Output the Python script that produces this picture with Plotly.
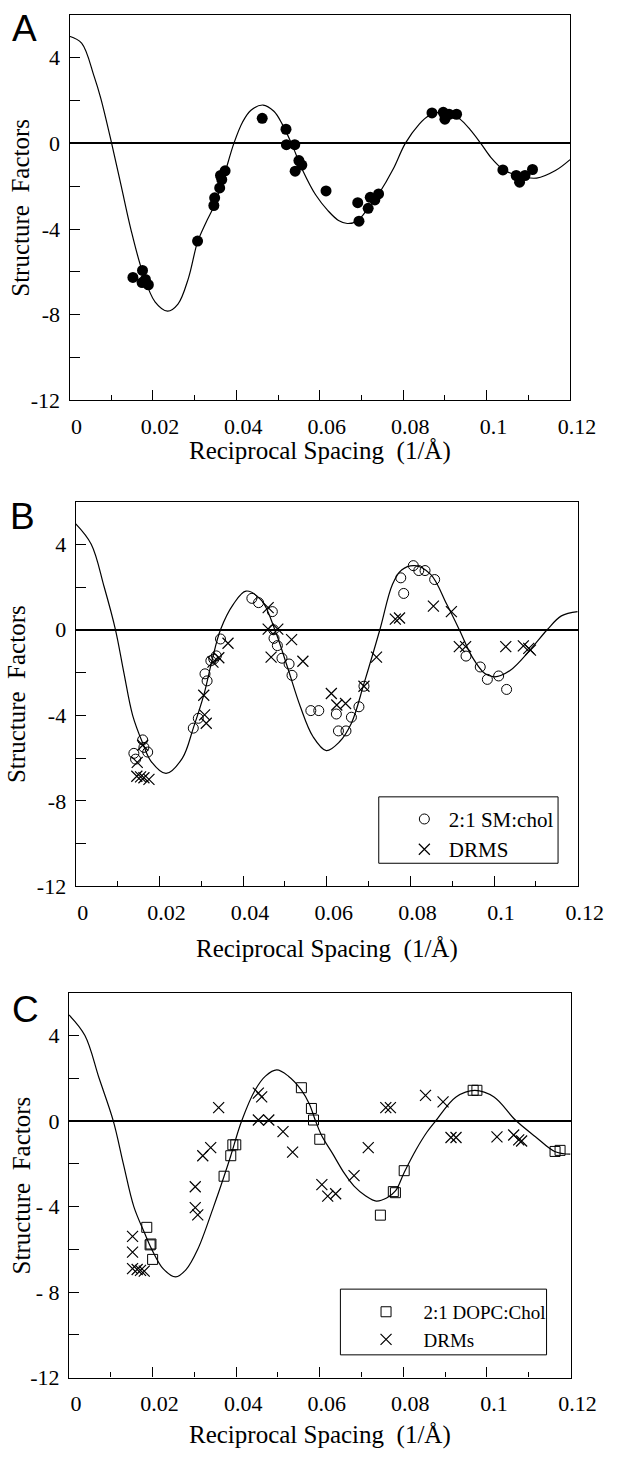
import plotly.graph_objects as go

W, H = 632, 1462

# ---------------- data ----------------
x_ticks = [0, 0.02, 0.04, 0.06, 0.08, 0.1, 0.12]
x_ticklabels = ["0", "0.02", "0.04", "0.06", "0.08", "0.1", "0.12"]
x_minor = [0.01, 0.03, 0.05, 0.07, 0.09, 0.11]
y_ticks = [-12, -8, -4, 0, 4]
y_ticklabels_ab = ["-12", "-8", "-4", "0", "4"]
y_ticklabels_c = ["-12", "- 8", "- 4", "0", "4"]
y_minor = [-10, -6, -2, 2]

# Panel A
curve_a_x = [0.0, 0.0029, 0.0059, 0.0075, 0.0101, 0.0124, 0.0147, 0.0175, 0.0205, 0.0235,
             0.0260, 0.0285, 0.0307, 0.0327, 0.0347, 0.0370, 0.0394, 0.0415, 0.0435, 0.0464,
             0.0490, 0.0510, 0.0532, 0.0560, 0.0590, 0.0620, 0.0645, 0.0666, 0.0690, 0.0717,
             0.0742, 0.0776, 0.0805, 0.0838, 0.0862, 0.0887, 0.0912, 0.0937, 0.0960, 0.0986,
             0.1010, 0.1040, 0.1074, 0.1120, 0.1165, 0.1200]
curve_a_y = [5.0, 4.68, 3.13, 2.1, 0.0, -2.0, -4.0, -6.0, -7.4, -7.83,
             -7.5, -6.3, -4.6, -3.7, -2.9, -1.55, 0.0, 1.0, 1.55, 1.79,
             1.5, 0.9, 0.0, -1.3, -2.4, -3.15, -3.6, -3.74, -3.62, -3.0,
             -2.34, -1.2, 0.0, 0.89, 1.3, 1.46, 1.4, 1.12, 0.65, 0.0,
             -0.65, -1.22, -1.5, -1.62, -1.27, -0.76]
dots_a_x = [0.0152, 0.0175, 0.0174, 0.0182, 0.0189, 0.0307,
            0.0346, 0.0348, 0.0360, 0.0365, 0.0362, 0.0373, 0.0462,
            0.0519, 0.0520, 0.0540, 0.0550, 0.0557, 0.0541, 0.0615,
            0.0691, 0.0694, 0.0716, 0.0721, 0.0732, 0.0741,
            0.0869, 0.0896, 0.0900, 0.0910, 0.0928,
            0.1039, 0.1071, 0.1079, 0.1092, 0.1110]
dots_a_y = [-6.26, -5.93, -6.5, -6.35, -6.6, -4.56,
            -2.9, -2.54, -2.08, -1.69, -1.5, -1.28, 1.17,
            0.66, -0.06, -0.06, -0.8, -1.01, -1.3, -2.22,
            -2.77, -3.63, -3.03, -2.52, -2.64, -2.36,
            1.42, 1.45, 1.13, 1.36, 1.36,
            -1.24, -1.5, -1.81, -1.5, -1.22]

# Panel B
curve_b_x = [0.0, 0.0037, 0.0068, 0.0095, 0.0115, 0.0136, 0.0160, 0.0180, 0.0216, 0.0255,
             0.0281, 0.0306, 0.0325, 0.0346, 0.0377, 0.0407, 0.0445, 0.0476, 0.0506, 0.0537,
             0.0567, 0.0599, 0.0630, 0.0659, 0.0689, 0.0727, 0.0757, 0.0779, 0.0811, 0.0849,
             0.0887, 0.0917, 0.0948, 0.0978, 0.1001, 0.1039, 0.1085, 0.1127, 0.1161, 0.1200]
curve_b_y = [4.95, 4.0, 2.0, 0.0, -2.0, -4.0, -5.3, -6.15, -6.72, -6.0,
             -4.6, -3.06, -1.5, 0.0, 1.2, 1.81, 1.35, 0.0, -1.74, -3.6,
             -4.99, -5.65, -5.25, -4.37, -2.52, 0.0, 2.12, 2.8, 3.0, 2.58,
             1.19, 0.0, -1.28, -2.05, -2.2, -1.89, -0.97, 0.0, 0.65, 0.85]
sm_chol_x = [0.0139, 0.0143, 0.0160, 0.0163, 0.0172, 0.0281, 0.0293,
             0.0309, 0.0314, 0.0323, 0.0330, 0.0336, 0.0346, 0.0421, 0.0437,
             0.0470, 0.0473, 0.0474, 0.0482, 0.0493, 0.0510, 0.0517,
             0.0562, 0.0581, 0.0623, 0.0628, 0.0646, 0.0659, 0.0677, 0.0689,
             0.0777, 0.0784, 0.0807, 0.0820, 0.0835, 0.0858,
             0.0933, 0.0967, 0.0984, 0.1011, 0.1030]
sm_chol_y = [-5.78, -6.05, -5.15, -5.5, -5.72, -4.6, -4.14,
             -2.06, -2.39, -1.45, -1.37, -1.22, -0.43, 1.47, 1.27,
             0.85, 0.0, -0.4, -0.74, -1.33, -1.6, -2.13,
             -3.78, -3.78, -3.94, -4.73, -4.73, -4.09, -3.6, -2.64,
             2.43, 1.7, 3.0, 2.77, 2.77, 2.35,
             -1.23, -1.74, -2.32, -2.16, -2.79]
drms_b_x = [0.0146, 0.0155, 0.0163, 0.0175, 0.0147, 0.0160, 0.0306, 0.0308, 0.0312,
            0.0328, 0.0342, 0.0364, 0.0460, 0.0460, 0.0483, 0.0467, 0.0516, 0.0543,
            0.0611, 0.0624, 0.0645, 0.0689, 0.0719, 0.0764, 0.0774, 0.0855, 0.0898,
            0.0917, 0.0932, 0.1028, 0.1070, 0.1083, 0.1087]
drms_b_y = [-6.85, -6.88, -6.92, -7.0, -6.2, -5.4, -3.06, -3.98, -4.37,
            -1.51, -1.31, -0.63, 1.04, 0.03, 0.03, -1.28, -0.46, -1.47,
            -2.98, -3.52, -3.45, -2.64, -1.28, 0.5, 0.55, 1.11, 0.85,
            -0.79, -0.79, -0.79, -0.75, -0.87, -0.95]

# Panel C
curve_c_x = [0.0, 0.0038, 0.0072, 0.0106, 0.0130, 0.0155, 0.0180, 0.0198, 0.0225, 0.0255,
             0.0280, 0.0308, 0.0346, 0.0371, 0.0387, 0.0413, 0.0445, 0.0470, 0.0497, 0.0525,
             0.0556, 0.0575, 0.0590, 0.0605, 0.0630, 0.0659, 0.0682, 0.0710, 0.0735, 0.0760,
             0.0781, 0.0802, 0.0830, 0.0857, 0.0877, 0.0926, 0.0971, 0.1017, 0.1068, 0.1116,
             0.1162, 0.1200]
curve_c_y = [4.96, 4.0, 2.0, 0.0, -2.0, -4.0, -5.2, -6.0, -6.9, -7.29,
             -6.95, -6.0, -4.0, -2.58, -1.62, 0.0, 1.44, 2.1, 2.39, 2.1,
             1.45, 0.8, 0.0, -0.7, -1.5, -2.45, -3.04, -3.5, -3.74, -3.6,
             -3.27, -2.4, -1.35, -0.5, 0.0, 1.13, 1.44, 1.13, 0.05, -0.73,
             -1.42, -1.55]
dopc_x = [0.0186, 0.0194, 0.0196, 0.0200, 0.0371, 0.0387, 0.0392, 0.0399,
          0.0556, 0.0580, 0.0585, 0.0600, 0.0745, 0.0776, 0.0781, 0.0802,
          0.0967, 0.0976, 0.1163, 0.1175]
dopc_y = [-4.97, -5.79, -5.75, -6.47, -2.58, -1.62, -1.11, -1.11,
          1.56, 0.59, 0.05, -0.85, -4.40, -3.3, -3.35, -2.32,
          1.44, 1.44, -1.42, -1.37]
drms_c_x = [0.0152, 0.0152, 0.0152, 0.0163, 0.0171, 0.0180, 0.0302, 0.0302, 0.0308,
            0.0320, 0.0339, 0.0358, 0.0453, 0.0461, 0.0453, 0.0478, 0.0512, 0.0535,
            0.0605, 0.0619, 0.0638, 0.0682, 0.0716, 0.0758, 0.0769, 0.0853, 0.0895,
            0.0914, 0.0926, 0.1024, 0.1064, 0.1076, 0.1083]
drms_c_y = [-5.39, -6.13, -6.9, -6.94, -6.98, -7.02, -3.07, -4.05, -4.39,
            -1.62, -1.24, 0.63, 1.31, 1.13, 0.05, 0.05, -0.49, -1.45,
            -2.97, -3.51, -3.40, -2.55, -1.24, 0.63, 0.63, 1.2, 0.9,
            -0.77, -0.77, -0.74, -0.65, -0.88, -0.93]

# ---------------- figure ----------------
SERIF = "Liberation Serif"
SANS = "Liberation Sans"

def pxx(p):
    return p / W

def pxy(p):
    return 1 - p / H

# plot-area rectangles in pixels: left, right, top, bottom
panels = [(72.5, 594.5, 15, 404), (79, 602.5, 506, 894.3), (72, 595, 1001.7, 1390)]

fig = go.Figure()

line_style = dict(color="black", width=1.2, shape="spline", smoothing=1.0)

# A
fig.add_trace(go.Scatter(x=curve_a_x, y=curve_a_y, mode="lines", line=line_style,
                         showlegend=False, xaxis="x", yaxis="y"))
fig.add_trace(go.Scatter(x=dots_a_x, y=dots_a_y, mode="markers",
                         marker=dict(symbol="circle", size=11, color="black"),
                         showlegend=False, xaxis="x", yaxis="y"))
# B
fig.add_trace(go.Scatter(x=curve_b_x, y=curve_b_y, mode="lines", line=line_style,
                         showlegend=False, xaxis="x2", yaxis="y2"))
fig.add_trace(go.Scatter(x=sm_chol_x, y=sm_chol_y, mode="markers", name="2:1 SM:chol",
                         marker=dict(symbol="circle-open", size=10, color="black",
                                     line=dict(width=1, color="black")),
                         legend="legend", xaxis="x2", yaxis="y2"))
fig.add_trace(go.Scatter(x=drms_b_x, y=drms_b_y, mode="markers", name="DRMS",
                         marker=dict(symbol="x-thin-open", size=11, color="black",
                                     line=dict(width=1.2, color="black")),
                         legend="legend", xaxis="x2", yaxis="y2"))
# C
fig.add_trace(go.Scatter(x=curve_c_x, y=curve_c_y, mode="lines", line=line_style,
                         showlegend=False, xaxis="x3", yaxis="y3"))
fig.add_trace(go.Scatter(x=dopc_x, y=dopc_y, mode="markers", name="2:1 DOPC:Chol",
                         marker=dict(symbol="square-open", size=10, color="black",
                                     line=dict(width=1, color="black")),
                         legend="legend2", xaxis="x3", yaxis="y3"))
fig.add_trace(go.Scatter(x=drms_c_x, y=drms_c_y, mode="markers", name="DRMs",
                         marker=dict(symbol="x-thin-open", size=11, color="black",
                                     line=dict(width=1.2, color="black")),
                         legend="legend2", xaxis="x3", yaxis="y3"))

tickfont = dict(family=SERIF, size=22, color="black")
axes = {}
for i, (l, r, t, b) in enumerate(panels):
    sfx = "" if i == 0 else str(i + 1)
    axes["xaxis" + sfx] = dict(
        domain=[pxx(l), pxx(r)], anchor="y" + sfx, range=[0, 0.12],
        tickmode="array", tickvals=x_ticks, ticktext=x_ticklabels,
        ticks="inside", ticklen=10, tickwidth=1.2, tickcolor="black",
        minor=dict(tickvals=x_minor, ticks="inside", ticklen=5, tickwidth=1.2, tickcolor="black"),
        showline=True, linecolor="black", linewidth=1.3, mirror=True,
        showgrid=False, zeroline=False, tickfont=tickfont,
        ticklabelshift=7, ticklabelstandoff=6, fixedrange=True)
    axes["yaxis" + sfx] = dict(
        domain=[pxy(b), pxy(t)], anchor="x" + sfx, range=[-12, 6],
        tickmode="array", tickvals=y_ticks,
        ticktext=(y_ticklabels_c if i == 2 else y_ticklabels_ab),
        ticks="inside", ticklen=10, tickwidth=1.2, tickcolor="black",
        minor=dict(tickvals=y_minor, ticks="inside", ticklen=10, tickwidth=1.2, tickcolor="black"),
        showline=True, linecolor="black", linewidth=1.3, mirror=True,
        showgrid=False, zeroline=True, zerolinecolor="black", zerolinewidth=1.5,
        tickfont=tickfont, ticklabelstandoff=4, fixedrange=True)

annotations = []
for txt, x, y in [("A", 25.8, 28.3), ("B", 23, 521), ("C", 27, 1019)]:
    annotations.append(dict(text=txt, x=pxx(x), y=pxy(y), xref="paper", yref="paper",
                            xanchor="center", yanchor="middle", showarrow=False,
                            font=dict(family=SANS, size=37, color="black")))
for x, y in [(334, 455), (341, 958), (334, 1448)]:
    annotations.append(dict(text="Reciprocal Spacing\u00a0\u00a0(1/\u00c5)", x=pxx(x), y=pxy(y),
                            xref="paper", yref="paper", xanchor="center", yanchor="middle",
                            showarrow=False, font=dict(family=SERIF, size=25, color="black")))
for x, y in [(22, 209.5), (18, 700), (22, 1196)]:
    annotations.append(dict(text="Structure\u00a0\u00a0Factors", x=pxx(x), y=pxy(y), textangle=-90,
                            xref="paper", yref="paper", xanchor="center", yanchor="middle",
                            showarrow=False, font=dict(family=SERIF, size=25, color="black")))

shapes = [
    dict(type="rect", xref="paper", yref="paper", x0=pxx(395), x1=pxx(582), y0=pxy(871), y1=pxy(804),
         line=dict(color="black", width=1), fillcolor="rgba(0,0,0,0)", layer="above"),
    dict(type="rect", xref="paper", yref="paper", x0=pxx(355), x1=pxx(570), y0=pxy(1367), y1=pxy(1300.7),
         line=dict(color="black", width=1), fillcolor="rgba(0,0,0,0)", layer="above"),
]

fig.update_layout(
    width=W, height=H, margin=dict(l=0, r=0, t=0, b=0),
    paper_bgcolor="white", plot_bgcolor="white",
    annotations=annotations, shapes=shapes,
    legend=dict(x=pxx(395 + 22), y=pxy(806), xanchor="left", yanchor="top",
                bgcolor="rgba(0,0,0,0)", borderwidth=0, itemwidth=39,
                font=dict(family=SERIF, size=21, color="black"), tracegroupgap=0),
    legend2=dict(x=pxx(355 + 8.5), y=pxy(1304.5), xanchor="left", yanchor="top",
                 bgcolor="rgba(0,0,0,0)", borderwidth=0, itemwidth=65,
                 font=dict(family=SERIF, size=19, color="black"), tracegroupgap=0),
    **axes,
)

fig.write_html("out.html")
